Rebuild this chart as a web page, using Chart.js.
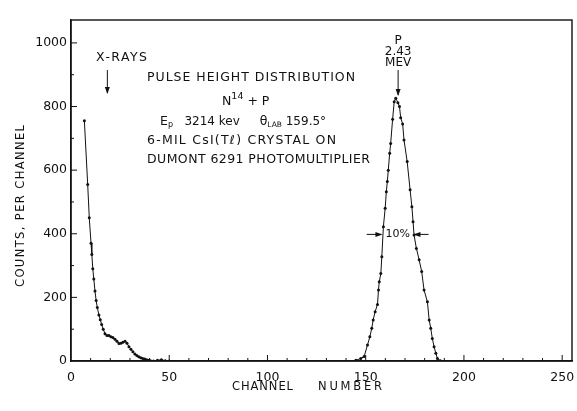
<!DOCTYPE html>
<html>
<head>
<meta charset="utf-8">
<script src="https://cdn.jsdelivr.net/npm/chart.js@4/dist/chart.umd.min.js"></script>
<style>
  html, body { margin: 0; padding: 0; background: #fff; }
  canvas { display: block; }
</style>
</head>
<body>
<canvas id="phd" width="577" height="411"></canvas>
<script>
// tick labels
const xTicks = [0, 50, 100, 150, 200, 250];
const yTicks = [0, 200, 400, 600, 800, 1000];

// low-energy x-ray tail (channel, counts)
const xrayChannels = [6.8, 8.5, 9.3, 10.2, 10.6, 11.1, 11.6, 12.2, 12.8, 13.4, 14.2, 14.9, 15.6, 16.4, 17.3,
  18.3, 19.3, 20.3, 21.3, 22.4, 23.4, 24.4, 25.4, 26.4, 27.5, 28.5, 29.5, 30.5, 31.5, 32.5,
  33.5, 34.5, 35.5, 36.5, 37.5, 38.5, 39.5, 40.5, 42, 44, 46, 48, 50];
const xrayCounts = [755, 555, 450, 370, 335, 290, 258, 220, 190, 168, 145, 130, 115, 100, 86,
  80, 80, 76, 74, 68, 62, 55, 56, 59, 62, 56, 45, 37, 29, 22,
  17, 13, 10, 8, 6, 4, 2, 1, 0, 2, 4, 1, 0];

// 2.43 MeV proton peak (channel, counts)
const peakChannels = [145, 147.5, 149.2, 150.9, 152.1, 153.1, 153.8, 154.8, 156, 156.5, 156.9, 157.7, 158.2,
  159, 159.9, 160.5, 161, 161.5, 162.2, 162.7, 163.7, 164.5, 165.3, 166.4, 167.2, 167.8, 168.8,
  169.5, 171.1, 172.6, 173.5, 174.1, 174.6, 175.8, 177.2, 178.5, 179.7, 181.4, 182.3, 183.1,
  183.9, 184.8, 185.7, 186.5, 188];
const peakCounts = [2, 8, 14, 50, 76, 103, 129, 155, 178, 223, 249, 275, 328,
  422, 480, 532, 564, 600, 653, 684, 760, 815, 826, 812, 800, 765, 745,
  695, 627, 538, 485, 438, 396, 354, 318, 281, 223, 186, 129, 103,
  71, 45, 24, 8, 1];

const FONT = "'DejaVu Sans', sans-serif";
const INK = "#111";

function pts(xs, ys) {
  return xs.map((v, i) => ({ x: v, y: ys[i] }));
}

function arrowDown(ctx, x, y1, y2) {
  ctx.beginPath();
  ctx.moveTo(x, y1); ctx.lineTo(x, y2); ctx.stroke();
  ctx.beginPath();
  ctx.moveTo(x, y2 + 1); ctx.lineTo(x - 2.5, y2 - 6); ctx.lineTo(x + 2.5, y2 - 6); ctx.closePath(); ctx.fill();
}

function arrowH(ctx, x1, x2, y) {
  const d = x2 > x1 ? 1 : -1;
  ctx.beginPath();
  ctx.moveTo(x1, y); ctx.lineTo(x2, y); ctx.stroke();
  ctx.beginPath();
  ctx.moveTo(x2 + d, y); ctx.lineTo(x2 - d * 6, y - 2.5); ctx.lineTo(x2 - d * 6, y + 2.5); ctx.closePath(); ctx.fill();
}

// stretch a line of caps between x0 and x1 by letter spacing
function fitText(ctx, t, x0, x1, y, size) {
  ctx.font = size + "px " + FONT;
  ctx.letterSpacing = "0px";
  const w = ctx.measureText(t).width;
  const n = Math.max(1, t.length - 1);
  ctx.letterSpacing = ((x1 - x0 - w) / n) + "px";
  ctx.textAlign = "left";
  ctx.textBaseline = "middle";
  ctx.fillText(t, x0, y);
  ctx.letterSpacing = "0px";
}

// draw a run of [text, size, dy] pieces starting at x
function runs(ctx, x, y, parts) {
  ctx.textAlign = "left";
  ctx.textBaseline = "middle";
  for (const [t, size, dy] of parts) {
    ctx.font = size + "px " + FONT;
    ctx.fillText(t, x, y + (dy || 0));
    x += ctx.measureText(t).width;
  }
}

const decor = {
  id: "decor",
  afterDraw(chart) {
    const { ctx, chartArea: a, scales: { x, y } } = chart;
    ctx.save();
    ctx.strokeStyle = INK;
    ctx.fillStyle = INK;
    ctx.lineWidth = 1.4;
    ctx.strokeRect(a.left, a.top, a.right - a.left, a.bottom - a.top);

    // inward ticks
    ctx.lineWidth = 1;
    for (let v = 10; v <= 250; v += 10) {
      const px = x.getPixelForValue(v);
      const len = v % 50 === 0 ? 6 : 3;
      ctx.beginPath(); ctx.moveTo(px, a.bottom); ctx.lineTo(px, a.bottom - len); ctx.stroke();
    }
    for (let v = 100; v <= 1000; v += 100) {
      const py = y.getPixelForValue(v);
      const len = v % 200 === 0 ? 6 : 3;
      ctx.beginPath(); ctx.moveTo(a.left, py); ctx.lineTo(a.left + len, py); ctx.stroke();
    }

    // axis titles
    fitText(ctx, "CHANNEL", 232, 293, 387, 11.5);
    fitText(ctx, "NUMBER", 318, 382, 387, 11.5);
    ctx.save();
    ctx.translate(21, 206);
    ctx.rotate(-Math.PI / 2);
    fitText(ctx, "COUNTS, PER CHANNEL", -81, 81, 0, 11.5);
    ctx.restore();

    // annotation block
    fitText(ctx, "X-RAYS", 96, 147, 58, 12.5);
    arrowDown(ctx, x.getPixelForValue(18.5), 70, 93);
    fitText(ctx, "PULSE HEIGHT DISTRIBUTION", 147, 355, 78, 12.5);
    runs(ctx, 222, 102, [["N", 12.5, 0], ["14", 9.5, -5], [" + P", 12.5, 0]]);
    runs(ctx, 160, 122, [["E", 12.5, 0], ["p", 8, 3], ["   3214 kev", 12, 0], ["     θ", 12.5, 0],
      ["LAB", 7.5, 3], [" 159.5°", 12, 0]]);
    fitText(ctx, "6-MIL CsI(Tℓ) CRYSTAL ON", 147, 336, 141, 12.5);
    fitText(ctx, "DUMONT 6291 PHOTOMULTIPLIER", 147, 370, 160, 12.5);

    // peak label
    const pk = x.getPixelForValue(166.5);
    ctx.font = "12px " + FONT;
    ctx.textAlign = "center";
    ctx.fillText("P", pk, 41);
    ctx.fillText("2.43", pk, 52);
    ctx.fillText("MEV", pk, 63);
    arrowDown(ctx, pk, 70, 95);

    // 10% width marker
    const hy = y.getPixelForValue(398);
    ctx.font = "11px " + FONT;
    ctx.fillText("10%", x.getPixelForValue(166.3), hy);
    arrowH(ctx, x.getPixelForValue(150.5), x.getPixelForValue(158), hy);
    arrowH(ctx, x.getPixelForValue(182), x.getPixelForValue(174.8), hy);
    ctx.restore();
  }
};

const series = (xs, ys) => ({
  data: pts(xs, ys),
  showLine: true,
  borderColor: INK,
  backgroundColor: INK,
  borderWidth: 1,
  pointRadius: 1.5,
  pointBorderWidth: 0,
  tension: 0
});

new Chart(document.getElementById("phd").getContext("2d"), {
  type: "scatter",
  data: {
    datasets: [series(xrayChannels, xrayCounts), series(peakChannels, peakCounts)]
  },
  options: {
    responsive: false,
    animation: false,
    layout: { padding: { left: 0, right: 5, top: 20, bottom: 0 } },
    plugins: { legend: { display: false }, tooltip: { enabled: false } },
    scales: {
      x: {
        type: "linear",
        min: 0,
        max: 255,
        afterBuildTicks: (s) => { s.ticks = xTicks.map(v => ({ value: v })); },
        afterFit: (s) => { s.height = 50; s.paddingLeft = 0; s.paddingRight = 0; },
        grid: { display: false, drawTicks: false },
        border: { display: true, color: INK, width: 1.4 },
        ticks: { color: INK, padding: 9, maxRotation: 0, font: { family: FONT, size: 12.5 },
          callback: (v) => String(v) }
      },
      y: {
        min: 0,
        max: 1072,
        afterBuildTicks: (s) => { s.ticks = yTicks.map(v => ({ value: v })); },
        afterFit: (s) => { s.width = 71; },
        grid: { display: false, drawTicks: false },
        border: { display: true, color: INK, width: 1.4 },
        ticks: { color: INK, padding: 4, font: { family: FONT, size: 12.5 },
          callback: (v) => String(v) }
      }
    }
  },
  plugins: [decor]
});
</script>
</body>
</html>
